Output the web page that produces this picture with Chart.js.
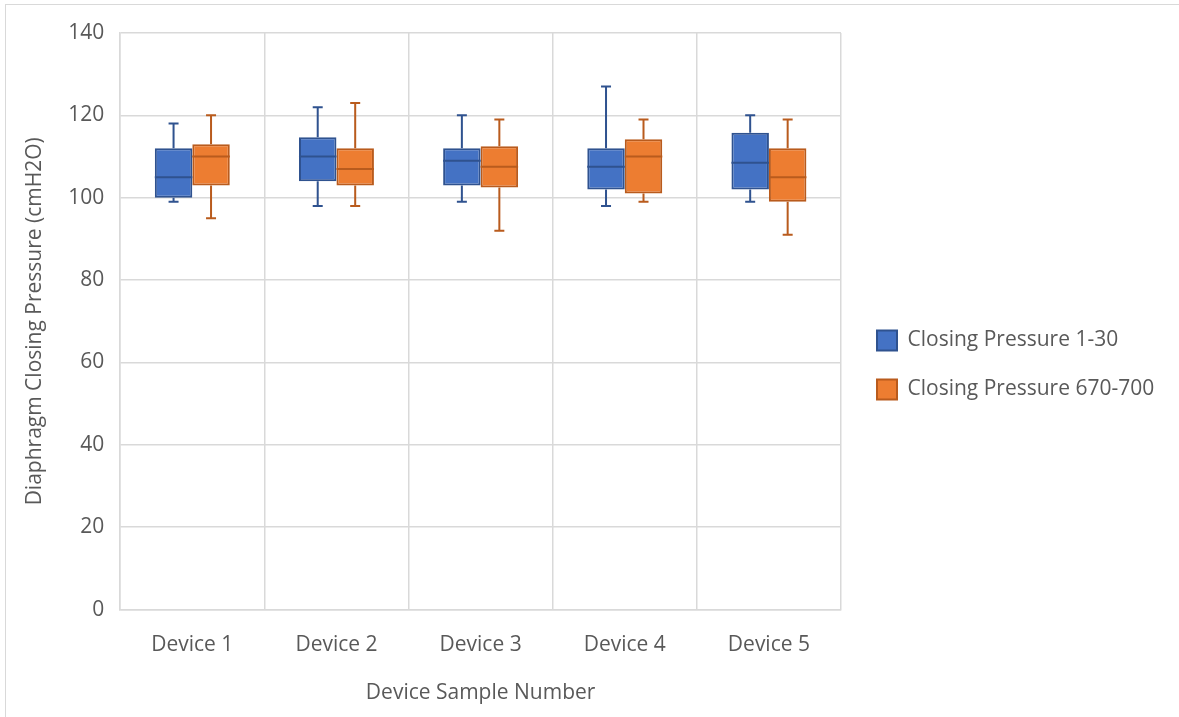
<!DOCTYPE html>
<html>
<head>
<meta charset="utf-8">
<script src="https://cdn.jsdelivr.net/npm/chart.js@4"></script>
<style>
  html, body { margin: 0; padding: 0; background: #fff; overflow: hidden; }
  #frame { position: absolute; left: 5px; top: 4px; width: 1200px; height: 740px; border: 1px solid #d9d9d9; }
  #wrap { position: absolute; left: 0; top: 0; width: 1179px; height: 717px; }
</style>
</head>
<body>
<div id="frame"></div>
<div id="wrap"><canvas id="boxChart"></canvas></div>
<script>
// Categories and tick labels
const devices = ['Device 1', 'Device 2', 'Device 3', 'Device 4', 'Device 5'];
const yTicks = [0, 20, 40, 60, 80, 100, 120, 140];

// Closing Pressure 1-30
const early_min = [99, 98, 99, 98, 99];
const early_q1 = [100, 104, 103, 102, 102];
const early_median = [105, 110, 109, 107.5, 108.5];
const early_q3 = [112, 114.7, 112, 112, 115.8];
const early_max = [118, 122, 120, 127, 120];

// Closing Pressure 670-700
const late_min = [95, 98, 92, 99, 91];
const late_q1 = [103, 103, 102.5, 101, 99];
const late_median = [110, 107, 107.5, 110, 105];
const late_q3 = [113, 112, 112.5, 114.2, 112];
const late_max = [120, 123, 119, 119, 119];

const textColor = '#595959';
const gridColor = '#d9d9d9';
const fontFamily = '"Open Sans", sans-serif';
const fontSize = 21;

function boxes(q1, q3) {
    return q1.map((v, i) => [v, q3[i]]);
}

// whiskers go under the boxes, medians on top
const whiskerPlugin = {
    id: 'whiskers',
    beforeDatasetsDraw(chart) {
        const ctx = chart.ctx;
        const y = chart.scales.y;
        chart.data.datasets.forEach((ds, di) => {
            const meta = chart.getDatasetMeta(di);
            ctx.save();
            ctx.strokeStyle = ds.borderColor;
            ctx.lineWidth = 2;
            meta.data.forEach((bar, i) => {
                const x = bar.x;
                const cap = 5;
                const pairs = [[ds.whiskerMax[i], ds.data[i][1]], [ds.whiskerMin[i], ds.data[i][0]]];
                pairs.forEach(([end, edge]) => {
                    const yEnd = y.getPixelForValue(end);
                    const yEdge = y.getPixelForValue(edge);
                    ctx.beginPath();
                    ctx.moveTo(x, yEdge);
                    ctx.lineTo(x, yEnd);
                    ctx.moveTo(x - cap, yEnd);
                    ctx.lineTo(x + cap, yEnd);
                    ctx.stroke();
                });
            });
            ctx.restore();
        });
    },
    afterDatasetsDraw(chart) {
        const ctx = chart.ctx;
        const y = chart.scales.y;
        chart.data.datasets.forEach((ds, di) => {
            const meta = chart.getDatasetMeta(di);
            ctx.save();
            ctx.strokeStyle = ds.borderColor;
            ctx.lineWidth = 2;
            meta.data.forEach((bar, i) => {
                const ym = y.getPixelForValue(ds.median[i]);
                ctx.beginPath();
                ctx.moveTo(bar.x - bar.width / 2, ym);
                ctx.lineTo(bar.x + bar.width / 2, ym);
                ctx.stroke();
            });
            ctx.restore();
        });
    }
};

// the default layout caps a side legend at a quarter of the width; give it room
const legendWidthPlugin = {
    id: 'legendWidth',
    beforeLayout(chart) {
        const legend = chart.legend;
        if (!legend || legend._widthPatched) return;
        const baseFit = Object.getPrototypeOf(legend).fit;
        legend.fit = function () {
            baseFit.call(this);
            this.width = 330;
        };
        legend._widthPatched = true;
    }
};

new Chart(document.getElementById('boxChart'), {
    type: 'bar',
    data: {
        labels: devices,
        datasets: [{
            label: 'Closing Pressure 1-30',
            data: boxes(early_q1, early_q3),
            median: early_median,
            whiskerMin: early_min,
            whiskerMax: early_max,
            backgroundColor: '#4472c4',
            borderColor: '#2f528f',
            borderWidth: 2,
            borderSkipped: false,
        }, {
            label: 'Closing Pressure 670-700',
            data: boxes(late_q1, late_q3),
            median: late_median,
            whiskerMin: late_min,
            whiskerMax: late_max,
            backgroundColor: '#ed7d31',
            borderColor: '#b95b1d',
            borderWidth: 2,
            borderSkipped: false,
        }],
    },
    options: {
        responsive: true,
        maintainAspectRatio: false,
        animation: false,
        categoryPercentage: 0.52,
        barPercentage: 1.0,
        layout: {
            padding: { left: 22, right: 0, top: 24, bottom: 11 },
        },
        plugins: {
            tooltip: { enabled: false },
            legend: {
                position: 'right',
                labels: {
                    boxWidth: 20,
                    boxHeight: 20,
                    padding: 28,
                    color: textColor,
                    font: { family: fontFamily, size: fontSize },
                },
            },
        },
        scales: {
            x: {
                grid: { color: gridColor, lineWidth: 1.5, drawTicks: false },
                border: { color: gridColor, width: 1.5 },
                ticks: { color: textColor, padding: 23, font: { family: fontFamily, size: fontSize } },
                title: {
                    display: true,
                    text: 'Device Sample Number',
                    color: textColor,
                    padding: { top: 0, bottom: 0 },
                    font: { family: fontFamily, size: fontSize },
                },
            },
            y: {
                min: 0,
                max: 140,
                afterBuildTicks(scale) {
                    scale.ticks = yTicks.map(v => ({ value: v }));
                },
                afterFit(scale) { scale.paddingTop = 33; },
                grid: { color: gridColor, lineWidth: 1.5, drawTicks: false },
                border: { color: gridColor, width: 1.5 },
                ticks: { color: textColor, padding: 16, font: { family: fontFamily, size: fontSize } },
                title: {
                    display: true,
                    text: 'Diaphragm Closing Pressure (cmH2O)',
                    color: textColor,
                    padding: { top: 0, bottom: 5 },
                    font: { family: fontFamily, size: fontSize },
                },
            },
            y2: {
                position: 'right',
                display: true,
                grid: { display: false },
                border: { display: false },
                ticks: { display: false },
                afterFit(scale) { scale.width = 8; },
            },
        },
    },
    plugins: [whiskerPlugin, legendWidthPlugin],
});
</script>
</body>
</html>
